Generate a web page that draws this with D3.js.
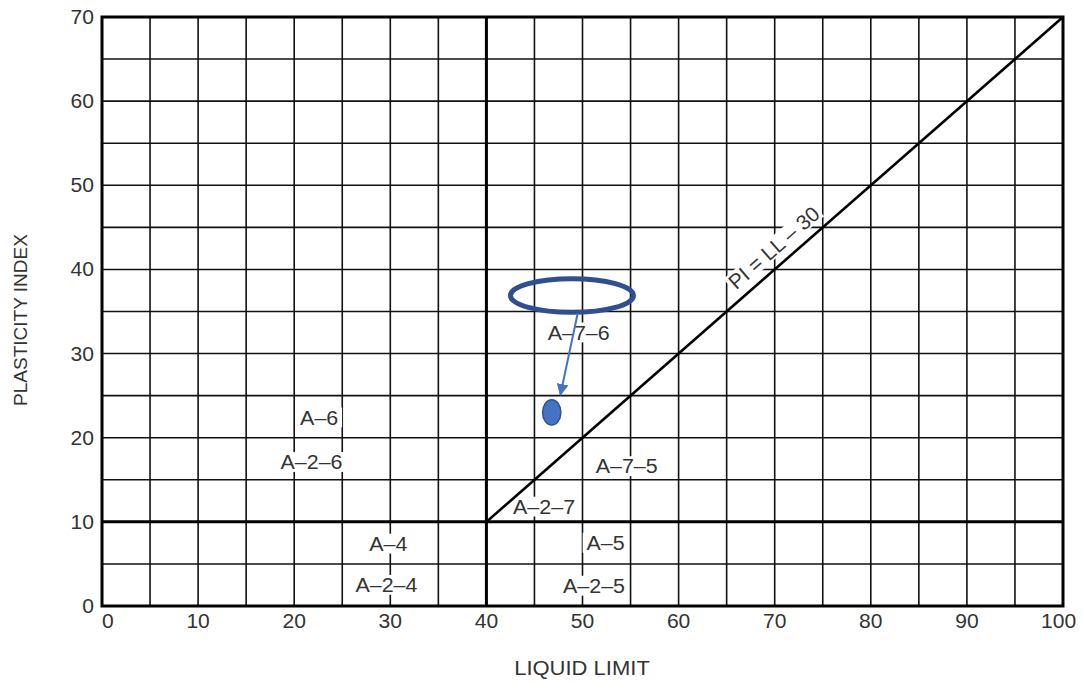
<!DOCTYPE html>
<html>
<head>
<meta charset="utf-8">
<script src="https://cdn.jsdelivr.net/npm/d3@7"></script>
<style>
  body { margin: 0; background: #fff; }
  text { font-family: "Liberation Sans", Arial, sans-serif; fill: #333; }
</style>
</head>
<body>
<svg id="container" width="1084" height="682"></svg>
<script>
// axis ticks (liquid limit / plasticity index)
var xTicks = [0, 10, 20, 30, 40, 50, 60, 70, 80, 90, 100];
var yTicks = [0, 10, 20, 30, 40, 50, 60, 70];
var xGrid = d3.range(0, 101, 5);
var yGrid = d3.range(0, 71, 5);

// zone boundaries: LL = 40, PI = 10, PI = LL - 30
var boundaryLL = 40;
var boundaryPI = 10;
var lineStart = [40, 10];
var lineEnd = [100, 70];

// AASHTO group labels [name, LL, PI]
var zoneNames = ["A–6", "A–2–6", "A–4", "A–2–4", "A–7–6", "A–7–5", "A–2–7", "A–5", "A–2–5"];
var zoneLL = [22.6, 21.8, 29.8, 29.6, 49.6, 54.6, 46.0, 52.4, 51.2];
var zonePI = [22.4, 17.1, 7.4, 2.5, 32.5, 16.6, 11.8, 7.5, 2.4];

var lineLabel = "PI = LL – 30";
var lineLabelPos = [69.9, 42.6];

// blue annotations: ring around A-7-6, arrow, sample point
var ringCenter = [48.9, 36.9];
var ringRadius = [6.4, 2.0];
var arrowFrom = [49.5, 34.8];
var arrowTo = [47.7, 25.1];
var samplePoint = [46.8, 23.0];
var sampleRadius = [0.95, 1.5];

function drawChart()
{
    const svg = d3.select('#container');
    svg.append("rect").attr("width", 1084).attr("height", 682).attr("fill", "#fff");

    const x = d3.scaleLinear().domain([0, 100]).range([102, 1063]);
    const y = d3.scaleLinear().domain([0, 70]).range([606, 17]);

    // thin grid
    const grid = svg.append("g").attr("stroke", "#111").attr("stroke-width", 1.6);
    grid.selectAll("line.v").data(xGrid).join("line").attr("class", "v")
        .attr("x1", d => x(d)).attr("x2", d => x(d))
        .attr("y1", y(0)).attr("y2", y(70));
    grid.selectAll("line.h").data(yGrid).join("line").attr("class", "h")
        .attr("x1", x(0)).attr("x2", x(100))
        .attr("y1", d => y(d)).attr("y2", d => y(d));

    // zone labels with white boxes that break the grid
    const labels = svg.append("g").attr("font-size", 19.5);
    zoneNames.forEach((name, i) => {
        var g = labels.append("g")
            .attr("transform", "translate(" + x(zoneLL[i]) + "," + y(zonePI[i]) + ") scale(1.1,1)");
        var t = g.append("text").attr("text-anchor", "middle").attr("dy", "0.36em").text(name);
        var b = t.node().getBBox();
        g.insert("rect", "text")
            .attr("x", b.x - 3.5).attr("y", b.y + 1).attr("width", b.width + 7).attr("height", b.height - 2)
            .attr("fill", "#fff");
    });

    // heavy boundaries
    const heavy = svg.append("g").attr("stroke", "#000").attr("stroke-width", 3);
    heavy.append("line").attr("x1", x(boundaryLL)).attr("x2", x(boundaryLL)).attr("y1", y(0)).attr("y2", y(70));
    heavy.append("line").attr("x1", x(0)).attr("x2", x(100)).attr("y1", y(boundaryPI)).attr("y2", y(boundaryPI));
    heavy.append("line").attr("x1", x(lineStart[0])).attr("y1", y(lineStart[1]))
        .attr("x2", x(lineEnd[0])).attr("y2", y(lineEnd[1])).attr("stroke-width", 2.6);
    heavy.append("rect").attr("x", x(0)).attr("y", y(70))
        .attr("width", x(100) - x(0)).attr("height", y(0) - y(70)).attr("fill", "none");

    // diagonal label
    var angle = Math.atan2(y(lineEnd[1]) - y(lineStart[1]), x(lineEnd[0]) - x(lineStart[0])) * 180 / Math.PI;
    var dg = svg.append("g")
        .attr("transform", "translate(" + x(lineLabelPos[0]) + "," + y(lineLabelPos[1]) + ") rotate(" + angle + ")");
    var dt = dg.append("text").attr("font-size", 21).attr("text-anchor", "middle").attr("dy", "0.36em").text(lineLabel);
    var db = dt.node().getBBox();
    dg.insert("rect", "text").attr("x", db.x - 2).attr("y", db.y + 2)
        .attr("width", db.width + 4).attr("height", db.height - 4).attr("fill", "#fff");

    // tick labels
    const ticks = svg.append("g").attr("font-size", 19.5);
    ticks.selectAll("text.x").data(xTicks).join("text").attr("class", "x")
        .attr("x", d => x(d) - (d == 100 ? 4 : 0)).attr("y", 628)
        .attr("text-anchor", d => d == 0 ? "start" : "middle")
        .attr("transform", d => "translate(" + x(d) + ",0) scale(1.08,1) translate(" + (-x(d)) + ",0)")
        .text(d => d);
    ticks.selectAll("text.y").data(yTicks).join("text").attr("class", "y")
        .attr("x", 94).attr("y", d => y(d)).attr("dy", "0.36em")
        .attr("text-anchor", "end")
        .attr("transform", "translate(94,0) scale(1.08,1) translate(-94,0)")
        .text(d => d);

    // axis titles
    svg.append("text").attr("font-size", 20).attr("text-anchor", "middle")
        .attr("transform", "translate(582,675) scale(1.1,1)")
        .text("LIQUID LIMIT");
    svg.append("text").attr("font-size", 19).attr("text-anchor", "middle")
        .attr("transform", "translate(27,320) rotate(-90)")
        .text("PLASTICITY INDEX");

    // annotations
    svg.append("defs").append("marker").attr("id", "arrowhead")
        .attr("viewBox", "0 0 10 10").attr("refX", 9).attr("refY", 5)
        .attr("markerWidth", 6).attr("markerHeight", 6).attr("orient", "auto")
        .append("path").attr("d", "M0,0 L10,5 L0,10 z").attr("fill", "#4472C4");

    svg.append("ellipse")
        .attr("cx", x(ringCenter[0])).attr("cy", y(ringCenter[1]))
        .attr("rx", x(ringRadius[0]) - x(0)).attr("ry", y(0) - y(ringRadius[1]))
        .attr("fill", "none").attr("stroke", "#2F4F8F").attr("stroke-width", 5);

    svg.append("line")
        .attr("x1", x(arrowFrom[0])).attr("y1", y(arrowFrom[1]))
        .attr("x2", x(arrowTo[0])).attr("y2", y(arrowTo[1]))
        .attr("stroke", "#4472C4").attr("stroke-width", 2).attr("marker-end", "url(#arrowhead)");

    svg.append("ellipse")
        .attr("cx", x(samplePoint[0])).attr("cy", y(samplePoint[1]))
        .attr("rx", x(sampleRadius[0]) - x(0)).attr("ry", y(0) - y(sampleRadius[1]))
        .attr("fill", "#4472C4").attr("stroke", "#2F528F").attr("stroke-width", 1.5);
}

drawChart();
</script>
</body>
</html>
